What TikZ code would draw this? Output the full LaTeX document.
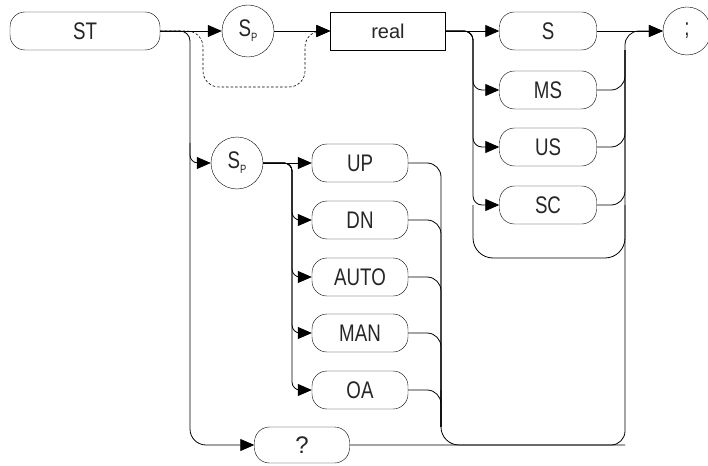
\documentclass[tikz,border=0pt]{standalone}
\usepackage{fontspec}
\setmainfont{Liberation Sans}[FakeStretch=0.78]
\newfontfamily\plainfont{Liberation Sans}
\usetikzlibrary{arrows.meta,calc}
\newcommand\spname{S\raisebox{-0.4ex}{\fontsize{12}{12}\selectfont P}}

\begin{document}
\begin{tikzpicture}[x=1pt,y=-1pt,
      pill/.style={draw,rounded corners=15pt,minimum width=97pt,minimum height=38pt,
        inner sep=0pt,text=black!85,font=\fontsize{24}{24}\selectfont},
      sbox/.style={draw,minimum width=115pt,minimum height=38pt,inner sep=0pt,
        text=black!85,font=\plainfont\fontsize{20}{20}\selectfont},
      ring/.style={draw,circle,minimum size=52pt,inner sep=0pt,
        text=black!85,font=\fontsize{24}{24}\selectfont},
      wire/.style={line width=0.8pt},
      arr/.style={wire,-{Triangle[length=14pt,width=12pt]}}]
      \useasboundingbox (0,0) rectangle (708,465);
      % top row
      \node[pill,minimum width=150pt] (st) at (85,31) {ST};
      \node[ring] (sp1) at (248,31) {\spname};
      \node[sbox] (real) at (388,31) {real};
      \node[pill] (s) at (548,31) {S};
      \node[pill] (ms) at (548,90) {MS};
      \node[pill] (us) at (548,147) {US};
      \node[pill] (sc) at (548,205) {SC};
      \node[ring,minimum size=48pt] (semi) at (687,31) {;};
      % lower branch
      \node[ring] (sp2) at (237,163) {\spname};
      \node[pill,minimum width=96pt] (up) at (360,163) {UP};
      \node[pill,minimum width=96pt] (dn) at (360,220) {DN};
      \node[pill,minimum width=96pt] (auto) at (360,277) {AUTO};
      \node[pill,minimum width=96pt] (man) at (360,333) {MAN};
      \node[pill,minimum width=96pt] (oa) at (360,390) {OA};
      \node[pill,minimum width=95pt,minimum height=36pt,
        font=\plainfont\fontsize{24}{24}\selectfont] (qm) at (302,445) {?};
      % rails
      \coordinate (trunk) at (190,0);
      \coordinate (fork) at (292,0);
      \coordinate (merge) at (441,0);
      \coordinate (unit) at (473,0);
      \coordinate (exit) at (625,0);
      \coordinate (skipL) at (203,87);
      \coordinate (skipR) at (305,87);
      \coordinate (loop) at (549,258);
      \draw[arr] (st) -- (sp1);
      \draw[arr] (sp1) -- (real);
      \draw[arr,dash pattern=on 2.5pt off 2pt,line width=0.6pt,rounded corners=16] (st.east) -| (skipL) -- (skipR) |- (real.west);
      \draw[wire,rounded corners=10] (st.east) -| (trunk |- sp2.west);
      \draw[arr,rounded corners=8] ($(trunk |- sp2.west)-(0,20)$) |- (sp2.west);
      \draw[arr,rounded corners=16] (trunk |- sp2.west) |- (qm.west);
      \draw[arr] (sp2) -- (up);
      \foreach \n in {dn,auto,man,oa}
        \draw[arr,rounded corners=8] (sp2.east) -| (fork |- \n.west) -- (\n.west);
      \foreach \n in {up,dn,auto,man,oa}
        \draw[wire,rounded corners=14] (\n.east) -| (merge |- qm.north);
      \draw[wire,rounded corners=18] (merge |- oa.east) |- (exit |- qm.east);
      \draw[arr,rounded corners=14] (qm.east) -| (exit |- semi.west) -- (semi.west);
      \draw[arr] (real) -- (s);
      \foreach \n in {ms,us,sc}
        \draw[arr,rounded corners=9] (real.east) -| (unit |- \n.west) -- (\n.west);
      \draw[arr] (s) -- (semi);
      \foreach \n in {ms,us,sc}
        \draw[wire,rounded corners=14] (\n.east) -| (exit |- s.south);
      \draw[wire,rounded corners=20] (unit |- sc.west) |- (loop) -| (exit |- sc.east);
    \end{tikzpicture}
\end{document}
